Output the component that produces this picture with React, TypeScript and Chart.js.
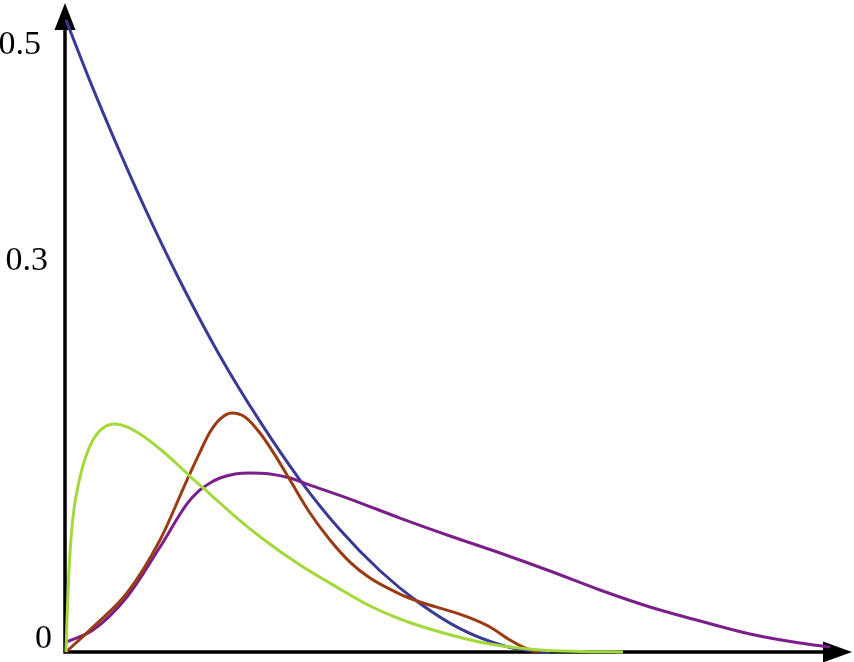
import React, { useEffect, useRef } from "react";
import { Chart, registerables } from "chart.js";

Chart.register(...registerables);

// Y tick labels
const yTickValues = [0, 0.3, 0.5];
const yTickLabels = ["0", "0.3", "0.5"];

// Series (x, y)
const blueX = [0, 0.306, 0.689, 1.071, 1.454, 1.964, 2.474, 2.985, 3.495, 4.005, 4.515, 5.026, 5.536, 5.918, 6.173];
const blueY = [0.5016, 0.4531, 0.3965, 0.3435, 0.2945, 0.235, 0.183, 0.1365, 0.097, 0.0645, 0.0385, 0.0185, 0.0058, 0.001, 0];

const greenX = [0, 0.0128, 0.038, 0.089, 0.179, 0.255, 0.344, 0.472, 0.625, 0.778, 0.982, 1.199, 1.416, 1.62, 1.837, 2.181, 2.513, 2.985, 3.495, 3.878, 4.26, 4.77, 5.408, 6.046, 6.556, 7.105];
const greenY = [0, 0.0254, 0.0651, 0.1071, 0.1389, 0.1556, 0.1683, 0.1778, 0.181, 0.1786, 0.1714, 0.1611, 0.1492, 0.1373, 0.1254, 0.1063, 0.0897, 0.069, 0.05, 0.0365, 0.0262, 0.0159, 0.0063, 0.0016, 0.0004, 0];

const brownX = [0, 0.344, 0.778, 1.199, 1.543, 1.709, 1.837, 1.964, 2.117, 2.283, 2.474, 2.666, 2.857, 3.112, 3.367, 3.622, 3.878, 4.26, 4.515, 4.898, 5.153, 5.408, 5.663, 5.855, 6.008];
const brownY = [0, 0.0198, 0.0468, 0.0889, 0.1365, 0.1587, 0.1746, 0.1849, 0.1897, 0.1865, 0.1738, 0.1563, 0.1365, 0.1103, 0.0889, 0.0714, 0.0587, 0.046, 0.0397, 0.0325, 0.027, 0.0198, 0.0095, 0.0032, 0];

const purpleX = [0, 0.344, 0.778, 1.199, 1.543, 1.709, 1.837, 1.964, 2.156, 2.347, 2.602, 2.857, 3.112, 3.622, 4.26, 4.898, 5.536, 6.173, 6.811, 7.449, 8.087, 8.724, 9.362, 9.745];
const purpleY = [0.0079, 0.0175, 0.0437, 0.0833, 0.1175, 0.1286, 0.1341, 0.1381, 0.1413, 0.1421, 0.1413, 0.1381, 0.1325, 0.1214, 0.1063, 0.0921, 0.0786, 0.0643, 0.0492, 0.0357, 0.0246, 0.0143, 0.0071, 0.004];

const toPts = (xs: number[], ys: number[]) => xs.map((x, i) => ({ x, y: ys[i] }));

const axesPlugin = {
  id: "arrowAxes",
  beforeDatasetsDraw(chart: any) {
    const { ctx, chartArea } = chart;
    const { left, right, top, bottom } = chartArea;
    ctx.save();
    ctx.strokeStyle = "#000";
    ctx.fillStyle = "#000";
    ctx.lineWidth = 3.5;
    const ax = left - 1;
    const ay = bottom;
    ctx.beginPath();
    ctx.moveTo(ax, ay + 1.5);
    ctx.lineTo(ax, top + 25);
    ctx.moveTo(ax - 1.5, ay);
    ctx.lineTo(right - 25, ay);
    ctx.stroke();
    // y arrow
    ctx.beginPath();
    ctx.moveTo(ax, top + 1);
    ctx.lineTo(ax - 10.5, top + 28);
    ctx.lineTo(ax + 10.5, top + 28);
    ctx.closePath();
    ctx.fill();
    // x arrow
    ctx.beginPath();
    ctx.moveTo(right + 2, ay);
    ctx.lineTo(right - 27, ay - 10.5);
    ctx.lineTo(right - 27, ay + 10.5);
    ctx.closePath();
    ctx.fill();
    // tick labels
    const yScale = chart.scales.y;
    ctx.font = '34px "Liberation Serif", "Times New Roman", serif';
    ctx.textAlign = "right";
    ctx.textBaseline = "middle";
    const rightEdges = [52, 48, 41];
    yTickValues.forEach((v, i) => {
      const py = yScale.getPixelForValue(v);
      const ly = Math.max(py - 13, top + 43);
      ctx.fillText(yTickLabels[i], rightEdges[i], ly);
    });
    ctx.restore();
  },
};

export default function App() {
  const ref = useRef<HTMLCanvasElement | null>(null);
  useEffect(() => {
    document.body.style.margin = "0";
    const canvas = ref.current!;
    const common = {
      showLine: true,
      pointRadius: 0,
      borderWidth: 3,
      cubicInterpolationMode: "monotone" as const,
      clip: 8,
      fill: false,
    };
    const chart = new Chart(canvas, {
      type: "scatter",
      data: {
        datasets: [
          { ...common, label: "green", data: toPts(greenX, greenY), borderColor: "#a4d93c" },
          { ...common, label: "brown", data: toPts(brownX, brownY), borderColor: "#9a3c13" },
          { ...common, label: "purple", data: toPts(purpleX, purpleY), borderColor: "#7a1f8a" },
          { ...common, label: "blue", data: toPts(blueX, blueY), borderColor: "#3a3a96" },
        ],
      },
      options: {
        responsive: false,
        animation: false,
        layout: { padding: { left: 66, right: 4, top: 2, bottom: 10 } },
        plugins: { legend: { display: false }, tooltip: { enabled: false } },
        scales: {
          x: { type: "linear", min: 0, max: 10, display: false },
          y: { type: "linear", min: 0, max: 0.5159, display: false },
        },
      },
      plugins: [axesPlugin],
    });
    return () => chart.destroy();
  }, []);
  return (
    <div style={{ position: "fixed", left: 0, top: 0, width: 854, height: 662, background: "#fff" }}>
      <canvas ref={ref} width={854} height={662} style={{ display: "block" }} />
    </div>
  );
}
